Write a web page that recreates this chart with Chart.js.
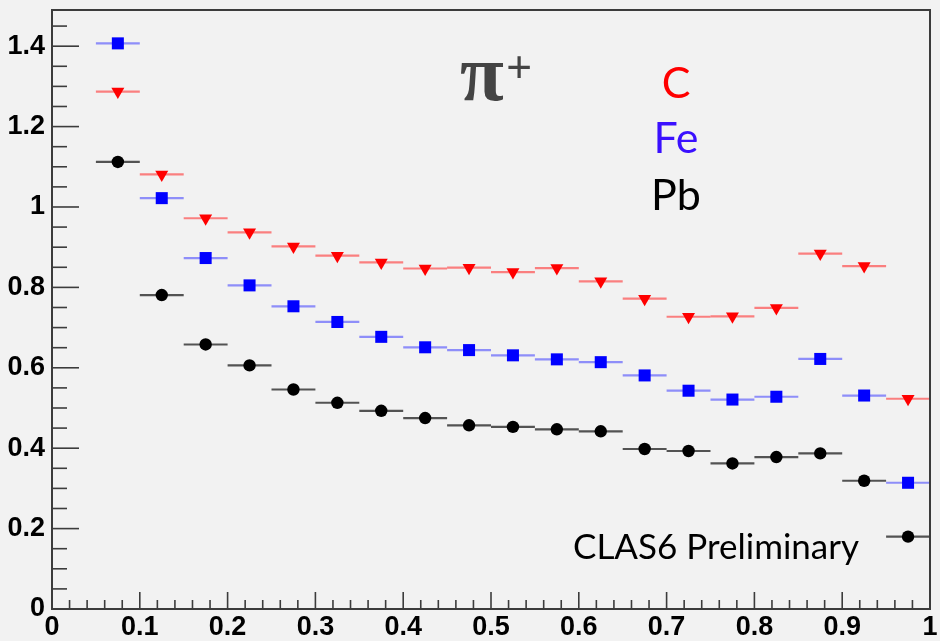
<!DOCTYPE html>
<html>
<head>
<meta charset="utf-8">
<script src="https://cdn.jsdelivr.net/npm/chart.js@4.4.1/dist/chart.umd.min.js"></script>
<style>
  html, body { margin: 0; padding: 0; background: #f2f2f2; }
  #wrap { width: 940px; height: 641px; position: relative; }
</style>
</head>
<body>
<div id="wrap"><canvas id="c" width="940" height="641"></canvas></div>
<script>
// z bins (centres) and their half width
const binCenters = [0.075, 0.125, 0.175, 0.225, 0.275, 0.325, 0.375, 0.425, 0.475, 0.525,
                    0.575, 0.625, 0.675, 0.725, 0.775, 0.825, 0.875, 0.925, 0.975];
const binHalfWidth = 0.025;

// pi+ multiplicity ratios per target
const carbon = [1.287, 1.081, 0.972, 0.937, 0.902, 0.879, 0.862, 0.847, 0.849, 0.838,
                0.848, 0.815, 0.772, 0.727, 0.728, 0.749, 0.884, 0.853, 0.523];
const iron   = [1.407, 1.022, 0.873, 0.805, 0.753, 0.714, 0.677, 0.651, 0.644, 0.631,
                0.621, 0.614, 0.581, 0.543, 0.521, 0.528, 0.622, 0.531, 0.314];
const lead   = [1.112, 0.781, 0.658, 0.606, 0.546, 0.513, 0.493, 0.475, 0.457, 0.453,
                0.447, 0.442, 0.398, 0.393, 0.362, 0.378, 0.387, 0.319, 0.180];

// axis ticks
const xTickValues = [0, 0.1, 0.2, 0.3, 0.4, 0.5, 0.6, 0.7, 0.8, 0.9, 1];
const xTickLabels = ["0", "0.1", "0.2", "0.3", "0.4", "0.5", "0.6", "0.7", "0.8", "0.9", "1"];
const yTickValues = [0, 0.2, 0.4, 0.6, 0.8, 1, 1.2, 1.4];
const yTickLabels = ["0", "0.2", "0.4", "0.6", "0.8", "1", "1.2", "1.4"];
const xMinorStep = 0.02;
const yMinorStep = 0.05;
const xRange = [0, 1];
const yRange = [0, 1.49];

const seriesNames = ["C", "Fe", "Pb"];

function pts(vals) { return binCenters.map((x, i) => ({ x: x, y: vals[i] })); }

const barColors = ['rgba(255,50,50,0.6)', 'rgba(60,60,255,0.55)', 'rgba(30,30,30,0.75)'];

// horizontal bin-width bars, drawn behind the markers
const binBars = {
  id: 'binBars',
  beforeDatasetsDraw(chart) {
    const ctx = chart.ctx, xs = chart.scales.x, ys = chart.scales.y;
    ctx.save();
    ctx.lineWidth = 2.2;
    chart.data.datasets.forEach((ds, di) => {
      ctx.strokeStyle = barColors[di];
      ds.data.forEach(p => {
        const y = ys.getPixelForValue(p.y);
        ctx.beginPath();
        ctx.moveTo(xs.getPixelForValue(p.x - binHalfWidth), y);
        ctx.lineTo(xs.getPixelForValue(p.x + binHalfWidth), y);
        ctx.stroke();
      });
    });
    ctx.restore();
  }
};

// frame with inward ticks
const frame = {
  id: 'frame',
  afterDatasetsDraw(chart) {
    const ctx = chart.ctx, a = chart.chartArea, xs = chart.scales.x, ys = chart.scales.y;
    ctx.save();
    ctx.strokeStyle = '#3c3c3c';
    ctx.lineWidth = 1.6;
    // x ticks
    for (let i = 0; i <= Math.round((xRange[1] - xRange[0]) / xMinorStep); i++) {
      const v = xRange[0] + i * xMinorStep;
      const px = xs.getPixelForValue(v);
      const major = i % 5 === 0;
      ctx.beginPath();
      ctx.moveTo(px, a.bottom);
      ctx.lineTo(px, a.bottom - (major ? 17 : 9));
      ctx.stroke();
    }
    // y ticks
    for (let i = 0; i * yMinorStep <= yRange[1] + 1e-9; i++) {
      const v = i * yMinorStep;
      const py = ys.getPixelForValue(v);
      const major = i % 4 === 0;
      ctx.beginPath();
      ctx.moveTo(a.left, py);
      ctx.lineTo(a.left + (major ? 27 : 15), py);
      ctx.stroke();
    }
    ctx.lineWidth = 2;
    ctx.strokeRect(a.left, a.top, a.right - a.left, a.bottom - a.top);
    ctx.restore();
  }
};

// title, legend text and tag
const labels = {
  id: 'labels',
  afterDraw(chart) {
    const ctx = chart.ctx;
    ctx.save();
    ctx.fillStyle = '#444444';
    ctx.textBaseline = 'alphabetic';
    ctx.textAlign = 'left';
    ctx.font = 'bold 80px "Liberation Serif"';
    ctx.fillText('\u03C0', 460, 100);
    ctx.font = 'bold 46px "Liberation Serif"';
    ctx.fillText('+', 506, 83);

    const cols = ['#ff0000', '#3a10ff', '#000000'];
    ctx.textAlign = 'center';
    ctx.font = '43px Lato';
    const base = [98, 153, 210];
    seriesNames.forEach((n, i) => {
      ctx.fillStyle = cols[i];
      ctx.fillText(n, 676, base[i]);
    });

    ctx.fillStyle = '#000';
    ctx.textAlign = 'left';
    ctx.font = '35px Lato';
    ctx.fillText('CLAS6 Preliminary', 573, 559);
    ctx.restore();
  }
};

const tickFont = { family: '"Liberation Sans", Arial, sans-serif', size: 27, weight: 'bold' };

new Chart(document.getElementById('c'), {
  type: 'scatter',
  data: {
    datasets: [
      { label: seriesNames[0], data: pts(carbon), pointStyle: 'triangle', rotation: 180,
        pointRadius: 7.5, backgroundColor: '#ff0000', borderWidth: 0 },
      { label: seriesNames[1], data: pts(iron), pointStyle: 'rect',
        pointRadius: 8.5, backgroundColor: '#0000ff', borderWidth: 0 },
      { label: seriesNames[2], data: pts(lead), pointStyle: 'circle',
        pointRadius: 6.2, backgroundColor: '#000000', borderWidth: 0 }
    ]
  },
  options: {
    responsive: false,
    animation: false,
    devicePixelRatio: 1,
    layout: { padding: { top: 10, right: 10, left: 0, bottom: 0 } },
    plugins: { legend: { display: false }, tooltip: { enabled: false } },
    scales: {
      x: {
        type: 'linear', min: xRange[0], max: xRange[1],
        grid: { display: false, tickLength: 0 }, border: { display: false },
        afterBuildTicks: s => { s.ticks = xTickValues.map(v => ({ value: v })); },
        ticks: {
          font: tickFont, color: '#000', padding: 2, maxRotation: 0, autoSkip: false,
          callback: (v, i) => xTickLabels[i]
        },
        afterFit: s => { s.height = 32; s.paddingLeft = 0; s.paddingRight = 0; }
      },
      y: {
        type: 'linear', min: yRange[0], max: yRange[1],
        grid: { display: false, tickLength: 0 }, border: { display: false },
        afterBuildTicks: s => { s.ticks = yTickValues.map(v => ({ value: v })); },
        ticks: {
          font: tickFont, color: '#000', padding: 7, autoSkip: false,
          callback: (v, i) => yTickLabels[i]
        },
        afterFit: s => { s.width = 52; s.paddingTop = 0; s.paddingBottom = 0; }
      }
    }
  },
  plugins: [binBars, frame, labels]
});
</script>
</body>
</html>
